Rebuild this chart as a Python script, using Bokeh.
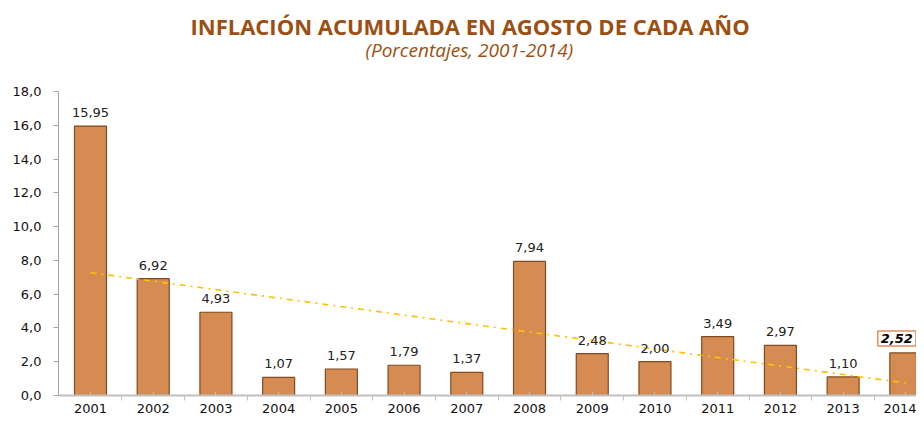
import numpy as np
from bokeh.plotting import figure
from bokeh.models import (ColumnDataSource, FixedTicker, LabelSet, Label, Title, Range1d)
from bokeh.core.properties import value
from bokeh.embed import file_html
from bokeh.resources import INLINE

years = ["2001", "2002", "2003", "2004", "2005", "2006", "2007",
         "2008", "2009", "2010", "2011", "2012", "2013", "2014"]
values = [15.95, 6.92, 4.93, 1.07, 1.57, 1.79, 1.37,
          7.94, 2.48, 2.00, 3.49, 2.97, 1.10, 2.52]
value_labels = ["15,95", "6,92", "4,93", "1,07", "1,57", "1,79", "1,37",
                "7,94", "2,48", "2,00", "3,49", "2,97", "1,10", "2,52"]
y_ticks = [0, 2, 4, 6, 8, 10, 12, 14, 16, 18]
y_tick_labels = ["0,0", "2,0", "4,0", "6,0", "8,0", "10,0", "12,0", "14,0", "16,0", "18,0"]
title_text = "INFLACIÓN ACUMULADA EN AGOSTO DE CADA AÑO"
subtitle_text = "(Porcentajes, 2001-2014)"

idx = list(range(len(years)))
src = ColumnDataSource(dict(x=idx, top=values))
lab_src = ColumnDataSource(dict(x=idx[:-1], y=values[:-1], t=value_labels[:-1]))

# linear trend (Excel-style) computed from the data
slope, intercept = np.polyfit(np.array(idx) + 1, np.array(values), 1)
trend_x = [idx[0], idx[-1]]
trend_y = [slope * (i + 1) + intercept for i in trend_x]

p = figure(width=916, height=417, output_backend="svg", toolbar_location=None,
           x_range=Range1d(-0.51, 13.17), y_range=Range1d(0, 18),
           min_border_left=58, min_border_right=0, min_border_bottom=22,
           min_border_top=91)
p.outline_line_color = None
p.xgrid.grid_line_color = None
p.ygrid.grid_line_color = None
p.background_fill_color = "white"
p.border_fill_color = "white"

p.vbar(x="x", top="top", width=0.51, source=src,
       fill_color="#D68B53", line_color="#7F4A1F", line_width=1.2)

p.line(trend_x, trend_y, line_color="#FFC000", line_width=1.6, line_dash="6 5 2 5")

labels = LabelSet(x="x", y="y", text="t", source=lab_src, y_offset=9,
                  text_align="center", text_baseline="bottom",
                  text_font=value("DejaVu Sans"), text_font_size=value("13px"),
                  text_color="#222222")
p.add_layout(labels)

last = Label(x=idx[-1], y=values[-1], text=value_labels[-1], y_offset=7, x_offset=-9,
             text_align="center", text_baseline="bottom",
             text_font="DejaVu Sans", text_font_size="13px", text_font_style="bold italic",
             text_color="#000000", background_fill_color="white",
             border_line_color="#E0905A", border_line_width=1.5, padding=3)
p.add_layout(last)

# axes
p.xaxis.ticker = FixedTicker(ticks=idx, minor_ticks=[i + 0.5 for i in idx])
p.xaxis.major_label_overrides = {i: y for i, y in zip(idx, years)}
p.xaxis.major_tick_out = 0
p.xaxis.major_tick_in = 4
p.xaxis.major_tick_line_color = "#BFBFBF"
p.xaxis.minor_tick_out = 5
p.xaxis.minor_tick_in = 0
p.xaxis.minor_tick_line_color = "#BFBFBF"
p.xaxis.axis_line_color = "#BFBFBF"
p.xaxis.axis_line_width = 2
p.xaxis.major_label_text_font = "DejaVu Sans"
p.xaxis.major_label_text_font_size = "13px"
p.xaxis.major_label_text_color = "#111111"
p.xaxis.major_label_standoff = 3

p.yaxis.ticker = FixedTicker(ticks=y_ticks)
p.yaxis.major_label_overrides = {v: s for v, s in zip(y_ticks, y_tick_labels)}
p.yaxis.minor_tick_line_color = None
p.yaxis.major_tick_out = 5
p.yaxis.major_tick_in = 0
p.yaxis.major_tick_line_color = "#A6A6A6"
p.yaxis.axis_line_color = "#A6A6A6"
p.yaxis.major_label_text_font = "DejaVu Sans"
p.yaxis.major_label_text_font_size = "13px"
p.yaxis.major_label_text_color = "#111111"
p.yaxis.major_label_standoff = 12

spacer = Title(text=" ", text_font_size="10px", standoff=16)
sub = Title(text=subtitle_text, align="left", text_font="Open Sans",
            text_font_size="19px", text_font_style="italic", text_color="#9C4F12",
            standoff=0, offset=307)
main = Title(text=title_text, align="left", text_font="Open Sans",
             text_font_size="22px", text_font_style="bold", text_color="#9C4F12",
             standoff=-12, offset=132)
p.add_layout(spacer, "above")
p.add_layout(sub, "above")
p.add_layout(main, "above")

open("out.html", "w").write(file_html(p, INLINE))
